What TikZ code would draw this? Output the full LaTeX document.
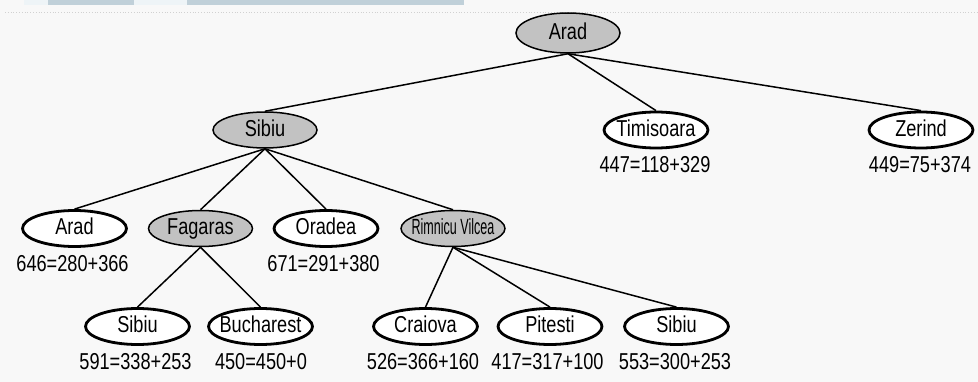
\documentclass[tikz,border=0pt]{standalone}
\usepackage{fontspec}
\setmainfont{Liberation Sans}[FakeStretch=0.79]
\newfontfamily\narrowfont{Liberation Sans}[FakeStretch=0.57]
\usetikzlibrary{shapes.geometric}
\definecolor{paper}{RGB}{248,248,248}
\definecolor{expanded}{RGB}{194,194,194}
\definecolor{stripdark}{RGB}{192,208,217}
\definecolor{strippale}{RGB}{238,244,247}
\newcommand\cityname[1]{\makebox[0pt]{#1}}
\tikzset{
  city/.style={ellipse, draw=black, fill=white, line width=2.8pt,
    minimum width=104pt, minimum height=36pt, inner sep=0pt,
    text height=17pt, text depth=4pt,
    font=\fontsize{23}{25}\selectfont},
  opened/.style={city, fill=expanded, line width=1.5pt},
  cost/.style={inner sep=0pt, font=\fontsize{23}{25}\selectfont},
  branch/.style={line width=1.5pt}
}
\begin{document}
\begin{tikzpicture}[x=1pt, y=-1pt]
  % page and header strip
  \fill[paper] (0,0) rectangle (978,382);
  \useasboundingbox (0,0) rectangle (978,382);
  \fill[strippale] (24,0) rectangle (48,5);
  \fill[stripdark] (48,0) rectangle (134,5);
  \fill[strippale] (134,0) rectangle (187,5);
  \fill[stripdark] (187,0) rectangle (464,5);
  \draw[black!18, line width=0.8pt, dotted] (5,12) -- (978,12);

  % root
  \node[opened, minimum height=40pt] (arad0) at (568,33) {\cityname{Arad}};

  % first expansion
  \node[opened] (sibiu1) at (265,130) {\cityname{Sibiu}};
  \node[city] (timi) at (656,130) {\cityname{Timisoara}};
  \node[city] (zer) at (921,130) {\cityname{Zerind}};
  \node[cost] (ctimi) at (655,165) {447=118+329};
  \node[cost] (czer) at (920,165) {449=75+374};

  % second expansion
  \node[city] (arad2) at (74.5,228.5) {\cityname{Arad}};
  \node[opened] (fag) at (200.5,228.5) {\cityname{Fagaras}};
  \node[city] (ora) at (326,228.5) {\cityname{Oradea}};
  \node[opened] (rim) at (453,228.5) {\cityname{\narrowfont\fontsize{22}{24}\selectfont Rimnicu Vilcea}};
  \node[cost] (carad2) at (72.5,264) {646=280+366};
  \node[cost] (cora) at (323.5,264) {671=291+380};

  % third expansion
  \node[city] (sib3a) at (137.5,326.5) {\cityname{Sibiu}};
  \node[city] (buc) at (260.5,326.5) {\cityname{Bucharest}};
  \node[city] (cra) at (425.5,326.5) {\cityname{Craiova}};
  \node[city] (pit) at (550,326.5) {\cityname{Pitesti}};
  \node[city] (sib3b) at (676.5,326.5) {\cityname{Sibiu}};
  \node[cost] (csib3a) at (135.5,362) {591=338+253};
  \node[cost] (cbuc) at (261,362) {450=450+0};
  \node[cost] (ccra) at (423,362) {526=366+160};
  \node[cost] (cpit) at (547.5,362) {417=317+100};
  \node[cost] (csib3b) at (675,362) {553=300+253};

  % tree branches
  \draw[branch] (arad0.south) -- (sibiu1.north);
  \draw[branch] (arad0.south) -- (timi.north);
  \draw[branch] (arad0.south) -- (zer.north);
  \draw[branch] (sibiu1.south) -- (arad2.north);
  \draw[branch] (sibiu1.south) -- (fag.north);
  \draw[branch] (sibiu1.south) -- (ora.north);
  \draw[branch] (sibiu1.south) -- (rim.north);
  \draw[branch] (fag.south) -- (sib3a.north);
  \draw[branch] (fag.south) -- (buc.north);
  \draw[branch] (rim.south) -- (cra.north);
  \draw[branch] (rim.south) -- (pit.north);
  \draw[branch] (rim.south) -- (sib3b.north);
\end{tikzpicture}
\end{document}
